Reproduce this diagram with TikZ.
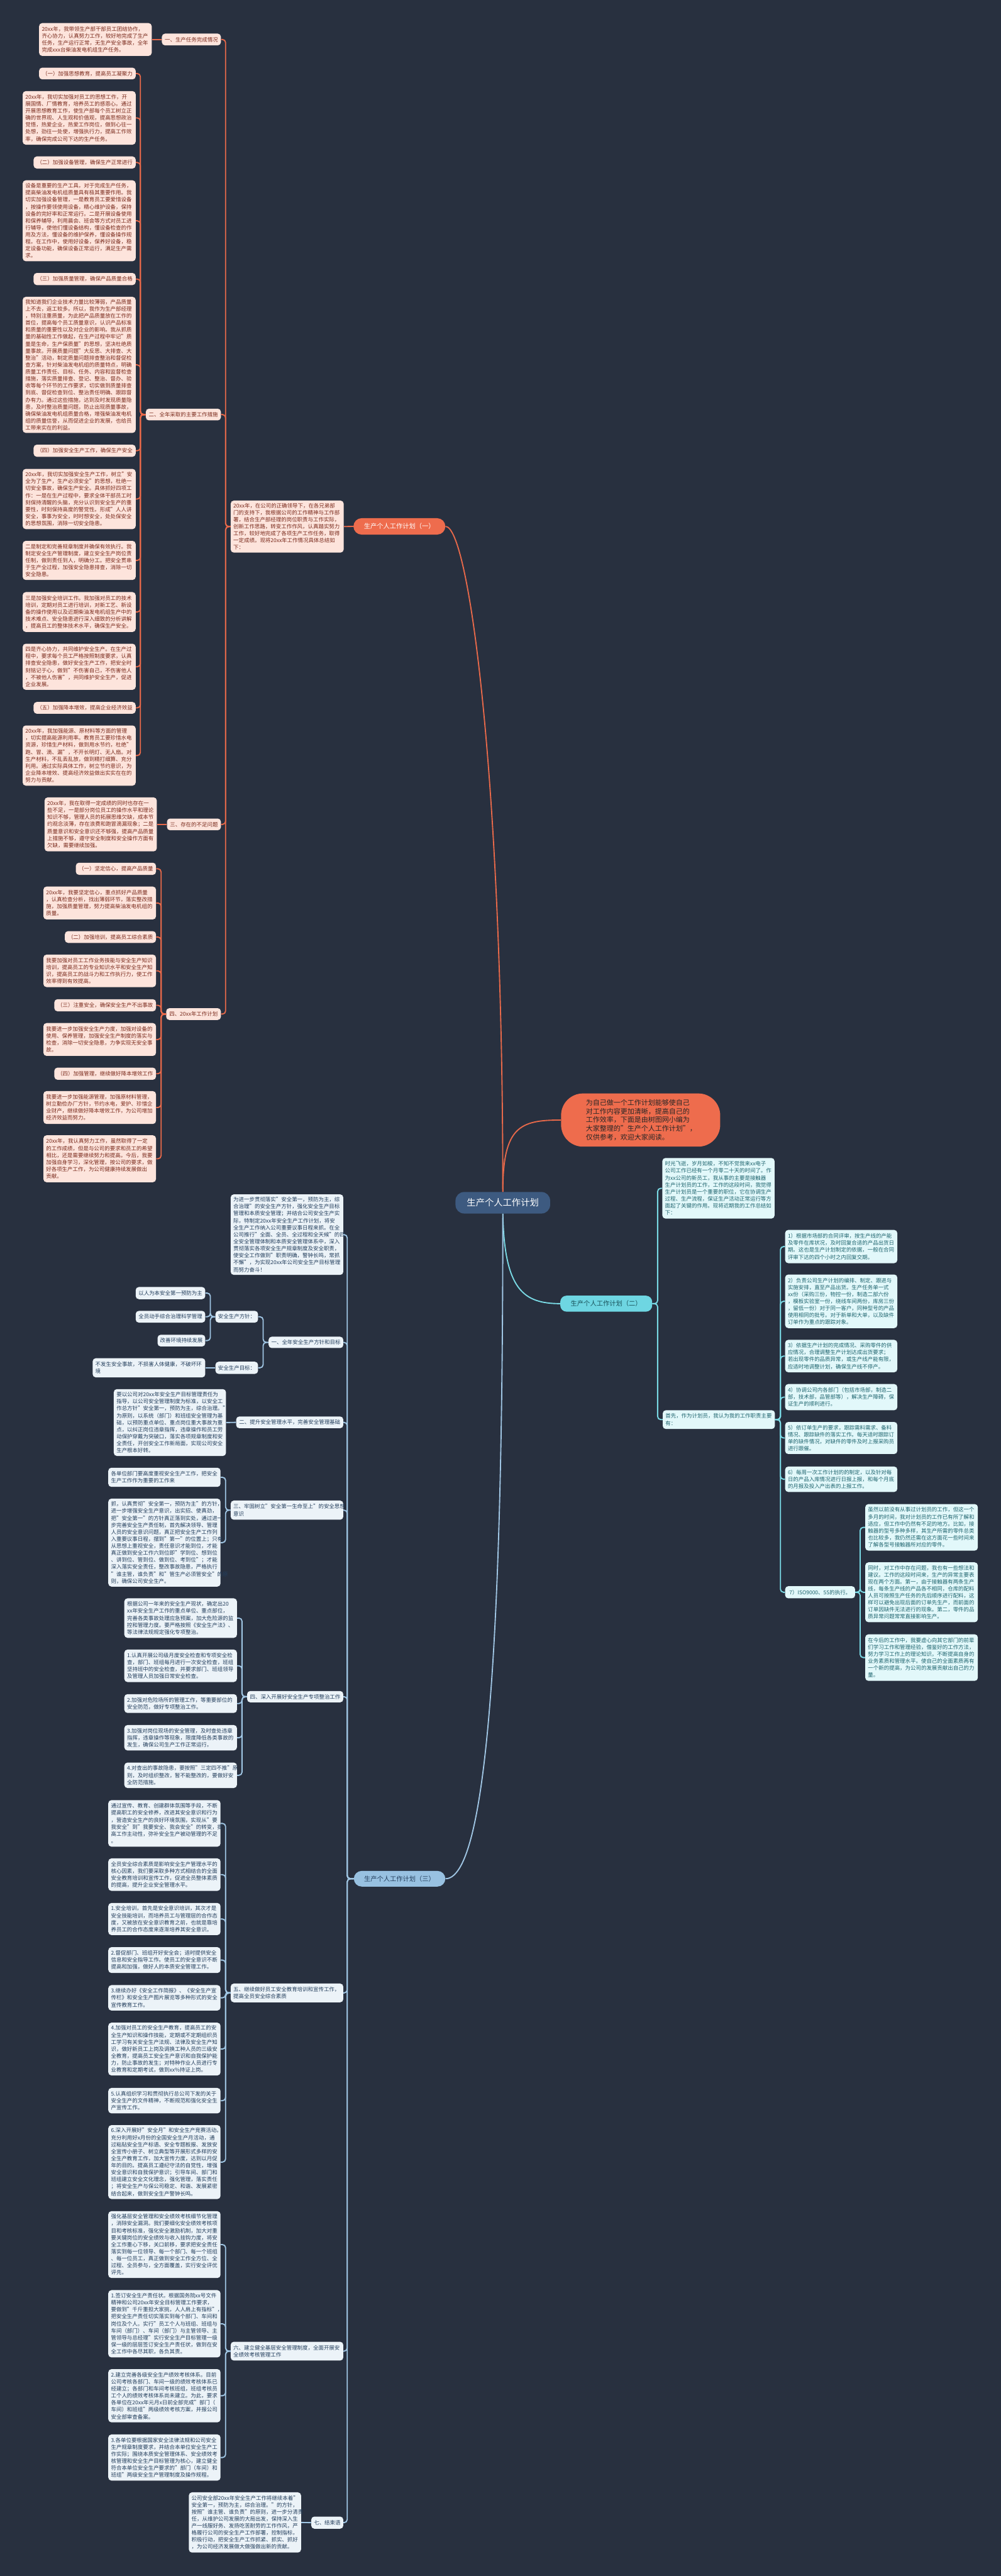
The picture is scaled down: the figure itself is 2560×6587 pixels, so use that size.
\documentclass[tikz,border=0pt]{standalone}
\usepackage{fontspec}
\setmainfont{Noto Sans CJK SC}
\definecolor{bgc}{RGB}{40,48,63}
\definecolor{lineA}{RGB}{232,105,74}
\definecolor{fillA}{RGB}{253,228,220}
\definecolor{textA}{RGB}{122,42,28}
\definecolor{orangeA}{RGB}{238,108,77}
\definecolor{centralc}{RGB}{61,90,128}
\definecolor{lineB}{RGB}{122,219,230}
\definecolor{nodeB}{RGB}{110,214,226}
\definecolor{fillB}{RGB}{226,248,250}
\definecolor{textB}{RGB}{30,100,110}
\definecolor{lineC}{RGB}{160,198,228}
\definecolor{nodeC}{RGB}{152,193,225}
\definecolor{fillC}{RGB}{236,243,248}
\definecolor{textC}{RGB}{35,62,92}
\newcommand\bodyfont{\fontsize{6.8pt}{8.95pt}\selectfont}
\newcommand\bx[7]{%
 \pgfmathsetmacro\mybw{(#4-#2)*0.5}%
 \pgfmathsetmacro\mybh{(#5-#3)*0.5}%
 \pgfmathsetmacro\mytw{(#4-#2)*0.5-7}%
 \node[#6, minimum width=\mybw pt, minimum height=\mybh pt, text width=\mytw pt, align=left, inner xsep=3.5pt, inner ysep=1pt] (#1) at ({(#2+#4)/2},{(#3+#5)/2}) {#7};}
\newcommand\hd[7]{%
 \pgfmathsetmacro\mybw{(#4-#2)*0.5}%
 \pgfmathsetmacro\mybh{(#5-#3)*0.5}%
 \node[#6, minimum width=\mybw pt, minimum height=\mybh pt, inner sep=1pt] (#1) at ({(#2+#4)/2},{(#3+#5)/2}) {#7};}
\newcommand\connL[4]{\draw[#1] (#2.west) -- (#2.west -| #3) |- (#4.east);}
\newcommand\connR[4]{\draw[#1] (#2.east) -- (#2.east -| #3) |- (#4.west);}
\tikzset{
 boxA/.style={fill=fillA, text=textA, rounded corners=4pt, font=\bodyfont},
 boxB/.style={fill=fillB, text=textB, rounded corners=4pt, font=\bodyfont},
 boxC/.style={fill=fillC, text=textC, rounded corners=4pt, font=\bodyfont},
 linkA/.style={draw=lineA, line width=1.5pt, rounded corners=4pt},
 linkB/.style={draw=lineB, line width=1.5pt, rounded corners=4pt},
 linkC/.style={draw=lineC, line width=1.5pt, rounded corners=4pt},
 curveA/.style={draw=lineA, line width=1.5pt},
 curveB/.style={draw=lineB, line width=1.5pt},
 curveC/.style={draw=lineC, line width=1.5pt},
}
\begin{document}
\begin{tikzpicture}[x=0.5pt,y=-0.5pt]
\fill[bgc] (0,0) rectangle (2560,6587);
\useasboundingbox (0,0) rectangle (2560,6587);

% spine coordinates
\coordinate (sA) at (577,0);
\coordinate (sB) at (359,0);
\coordinate (sD) at (412,0);
\coordinate (sE) at (1682,0);
\coordinate (sF) at (1996,0);
\coordinate (sG) at (2200,0);
\coordinate (sH) at (888,0);
\coordinate (sI) at (673,0);
\coordinate (sJ) at (538,0);
\coordinate (sL) at (577,0);
\coordinate (sM) at (619,0);
\coordinate (sN) at (577,0);
\coordinate (sP) at (577,0);

% central and level-1
\hd{c}{1165}{3048}{1407}{3103}{fill=centralc, text=white, rounded corners=11pt, font=\fontsize{11.5pt}{14pt}\selectfont}{生产个人工作计划}
\node[fill=orangeA, text=black!85, rounded corners=28pt, font=\fontsize{8.85pt}{11.2pt}\selectfont, minimum width=203.5pt, minimum height=68pt, text width=140pt, align=left, inner xsep=0pt, inner ysep=1pt] (oi) at (1638.5,2864) {为自己做一个工作计划能够使自己\\对工作内容更加清晰，提高自己的\\工作效率，下面是由树图网小编为\\大家整理的"生产个人工作计划"，\\仅供参考，欢迎大家阅读。};
\hd{b1}{904}{1325}{1139}{1367}{fill=orangeA, text=white, rounded corners=10.5pt, font=\fontsize{8.25pt}{10pt}\selectfont}{生产个人工作计划（一）}
\hd{b2}{1433}{3313}{1668}{3354}{fill=nodeB, text=textB!80!black, rounded corners=8pt, font=\fontsize{8.25pt}{10pt}\selectfont}{生产个人工作计划（二）}
\hd{b3}{905}{4784}{1139}{4824}{fill=nodeC, text=textC, rounded corners=10pt, font=\fontsize{8.25pt}{10pt}\selectfont}{生产个人工作计划（三）}

\draw[curveA] (c.north) .. controls (1286,2000) and (1200,1346) .. (b1.east);
\draw[curveA] (c.north) .. controls (1286,2880) and (1330,2864) .. (oi.west);
\draw[curveB] (c.south) .. controls (1290,3300) and (1340,3333) .. (b2.west);
\draw[curveC] (c.south) .. controls (1286,4000) and (1260,4804) .. (b3.east);

% ================= Branch 1 =================
\bx{ib1}{590}{1280}{879}{1413}{boxA}{20xx年，在公司的正确领导下，在各兄弟部\\门的支持下，我根据公司的工作精神与工作部\\署，结合生产部经理的岗位职责与工作实际，\\创新工作思路，转变工作作风，认真踏实努力\\工作，较好地完成了各项生产工作任务，取得\\一定成绩。现将20xx年工作情况具体总结如\\下：}
\hd{n1}{414}{86}{565}{116}{boxA}{一、生产任务完成情况}
\bx{a0}{100}{59}{388}{143}{boxA}{20xx年，我带领生产部干部员工团结协作，\\齐心协力，认真努力工作，较好地完成了生产\\任务，生产运行正常，无生产安全事故，全年\\完成xxx台柴油发电机组生产任务。}
\hd{n2}{373}{1045}{565}{1075}{boxA}{二、全年采取的主要工作措施}
\hd{h1}{100}{173}{347}{203}{boxA}{（一）加强思想教育，提高员工凝聚力}
\bx{t1}{58}{233}{347}{370}{boxA}{20xx年，我切实加强对员工的思想工作，开\\展国情、厂情教育，培养员工的感恩心。通过\\开展思想教育工作，使生产部每个员工树立正\\确的世界观、人生观和价值观，提高思想政治\\觉悟，热爱企业，热爱工作岗位，做到心往一\\处想，劲往一处使，增强执行力，提高工作效\\率，确保完成公司下达的生产任务。}
\hd{h2}{86}{400}{347}{431}{boxA}{（二）加强设备管理，确保生产正常进行}
\bx{t2}{58}{461}{347}{668}{boxA}{设备是重要的生产工具，对于完成生产任务，\\提高柴油发电机组质量具有极其重要作用。我\\切实加强设备管理，一是教育员工要爱惜设备\\，按操作要领使用设备，精心维护设备，保持\\设备的完好率和正常运行。二是开展设备使用\\和保养辅导，利用晨会、班会等方式对员工进\\行辅导，使他们懂设备结构，懂设备检查的作\\用及方法，懂设备的维护保养，懂设备操作规\\程。在工作中，使用好设备，保养好设备，稳\\定设备功能，确保设备正常运行，满足生产需\\求。}
\hd{h3}{86}{698}{347}{729}{boxA}{（三）加强质量管理，确保产品质量合格}
\bx{t3}{58}{759}{347}{1107}{boxA}{我知道我们企业技术力量比较薄弱，产品质量\\上不去，返工较多。所以，我作为生产部经理\\，特别注重质量，为此把产品质量放在工作的\\首位，提高每个员工质量意识，认识产品标准\\和质量的重要性以及对企业的影响。我从抓质\\量的基础性工作做起，在生产过程中牢记"质\\量是生命，生产保质量"的思想，坚决杜绝质\\量事故。开展质量问题"大反思、大排查、大\\整治"活动，制定质量问题排查整治和督促检\\查方案，针对柴油发电机组的质量特点，明确\\质量工作责任、目标、任务、内容和监督检查\\措施，落实质量排查、登记、整治、督办、验\\收等每个环节的工作要求，切实做到质量排查\\到底、督促检查到位、整治责任明确、跟踪督\\办有力。通过这些措施，达到及时发现质量隐\\患，及时整治质量问题，防止出现质量事故，\\确保柴油发电机组质量合格，增强柴油发电机\\组的质量信誉，从而促进企业的发展，也给员\\工带来实在的利益。}
\hd{h4}{86}{1137}{347}{1168}{boxA}{（四）加强安全生产工作，确保生产安全}
\bx{t4}{58}{1199}{347}{1353}{boxA}{20xx年，我切实加强安全生产工作，树立"安\\全为了生产，生产必须安全"的思想，杜绝一\\切安全事故，确保生产安全。具体抓好四项工\\作：一是在生产过程中，要求全体干部员工时\\刻保持清醒的头脑，充分认识到安全生产的重\\要性，时刻保持高度的警觉性。形成"人人讲\\安全，事事为安全，时时想安全，处处保安全\\的思想氛围，消除一切安全隐患。}
\bx{t5}{58}{1383}{347}{1483}{boxA}{二是制定和完善规章制度并确保有效执行。我\\制定安全生产管理制度，建立安全生产岗位责\\任制，做到责任到人，明确分工。把安全贯串\\于生产全过程，加强安全隐患排查，消除一切\\安全隐患。}
\bx{t6}{58}{1514}{347}{1616}{boxA}{三是加强安全培训工作。我加强对员工的技术\\培训，定期对员工进行培训，对新工艺、新设\\备的操作使用以及近期柴油发电机组生产中的\\技术难点、安全隐患进行深入细致的分析讲解\\，提高员工的整体技术水平，确保生产安全。}
\bx{t7}{58}{1646}{347}{1764}{boxA}{四是齐心协力，共同维护安全生产。在生产过\\程中，要求每个员工严格按照制度要求，认真\\排查安全隐患，做好安全生产工作，把安全时\\刻铭记于心，做到"不伤害自己，不伤害他人\\，不被他人伤害"，共同维护安全生产，促进\\企业发展。}
\hd{h5}{86}{1795}{347}{1825}{boxA}{（五）加强降本增效，提高企业经济效益}
\bx{t8}{58}{1855}{347}{2009}{boxA}{20xx年，我加强能源、原材料等方面的管理\\，切实提高能源利用率。教育员工要珍惜水电\\资源，珍惜生产材料，做到用水节约，杜绝"\\跑、冒、滴、漏"，不开长明灯、无人扇。对\\生产材料，不乱丢乱放，做到精打细算、充分\\利用。通过实际具体工作，树立节约意识，为\\企业降本增效、提高经济效益做出实实在在的\\努力与贡献。}
\hd{n3}{427}{2093}{565}{2123}{boxA}{三、存在的不足问题}
\bx{c1}{114}{2039}{401}{2177}{boxA}{20xx年，我在取得一定成绩的同时也存在一\\些不足，一是部分岗位员工的操作水平和理论\\知识不够，管理人员的拓展思维欠缺，成本节\\约观念淡薄，存在浪费和跑冒滴漏现象；二是\\质量意识和安全意识还不够强，提高产品质量\\上措施不够，遵守安全制度和安全操作方面有\\欠缺，需要继续加强。}
\hd{n4}{425}{2578}{565}{2608}{boxA}{四、20xx年工作计划}
\hd{d1}{194}{2206}{399}{2237}{boxA}{（一）坚定信心，提高产品质量}
\bx{d2}{111}{2267}{399}{2351}{boxA}{20xx年，我要坚定信心，重点抓好产品质量\\，认真检查分析，找出薄弱环节，落实整改措\\施，加强质量管理，努力提高柴油发电机组的\\质量。}
\hd{d3}{166}{2381}{399}{2411}{boxA}{（二）加强培训，提高员工综合素质}
\bx{d4}{111}{2441}{399}{2524}{boxA}{我要加强对员工工作业务技能与安全生产知识\\培训，提高员工的专业知识水平和安全生产知\\识，提高员工的战斗力和工作执行力，使工作\\效率得到有效提高。}
\hd{d5}{139}{2555}{399}{2586}{boxA}{（三）注重安全，确保安全生产不出事故}
\bx{d6}{111}{2616}{399}{2700}{boxA}{我要进一步加强安全生产力度，加强对设备的\\使用、保养管理，加强安全生产制度的落实与\\检查，消除一切安全隐患，力争实现无安全事\\故。}
\hd{d7}{139}{2730}{399}{2761}{boxA}{（四）加强管理，继续做好降本增效工作}
\bx{d8}{111}{2790}{399}{2874}{boxA}{我要进一步加强能源管理，加强原材料管理，\\树立勤俭办厂方针，节约水电，爱护、珍惜企\\业财产，继续做好降本增效工作，为公司增加\\经济效益而努力。}
\bx{d9}{111}{2903}{399}{3023}{boxA}{20xx年，我认真努力工作，虽然取得了一定\\的工作成绩，但是与公司的要求和员工的希望\\相比，还是需要继续努力和提高。今后，我要\\加强自身学习，深化管理，按公司的要求，做\\好各项生产工作，为公司健康持续发展做出\\贡献。}

\draw[linkA] (b1.west) -- (ib1.east);
\foreach \k in {n1,n2,n3,n4} {\connL{linkA}{ib1}{sA}{\k}}
\draw[linkA] (n1.west) -- (a0.east);
\foreach \k in {h1,t1,h2,t2,h3,t3,h4,t4,t5,t6,t7,h5,t8} {\connL{linkA}{n2}{sB}{\k}}
\draw[linkA] (n3.west) -- (c1.east);
\foreach \k in {d1,d2,d3,d4,d5,d6,d7,d8,d9} {\connL{linkA}{n4}{sD}{\k}}

% ================= Branch 2 =================
\bx{e0}{1694}{2961}{1981}{3116}{boxB}{时光飞逝，岁月如梭，不知不觉我来xx电子\\公司工作已经有一个月零二十天的时间了。作\\为xx公司的新员工，我从事的主要是接触器\\生产计划员的工作，工作的这段时间，我觉得\\生产计划员是一个重要的职位，它在协调生产\\过程、生产流程，保证生产活动正常运行等方\\面起了关键的作用。现将近期我的工作总结如\\下：}
\bx{e1}{1695}{3606}{1982}{3654}{boxB}{首先，作为计划员，我认为我的工作职责主要\\有：}
\bx{f1}{2008}{3145}{2295}{3230}{boxB}{1）根据市场部的合同评审，按生产线的产能\\及零件在库状况，及时回复合适的产品出货日\\期。这也是生产计划制定的依据，一般在合同\\评审下达的四个小时之内回复交期。}
\bx{f2}{2008}{3259}{2295}{3396}{boxB}{2）负责公司生产计划的编排、制定、跟进与\\实施安排，直至产品出货。生产任务单一式\\xx份（采购三份，物控一份，制造二部六份\\，模板实验室一份，绕线车间两份，库房三份\\，留低一份）对于同一客户，同种型号的产品\\使用相同的批号。对于新单和大单，以及缺件\\订单作为重点的跟踪对象。}
\bx{f3}{2008}{3426}{2295}{3509}{boxB}{3）依据生产计划的完成情况、采购零件的供\\应情况，合理调整生产计划达成出货要求；\\若出现零件的品质异常，或生产线产能有限，\\应适时地调整计划，确保生产线不停产。}
\bx{f4}{2008}{3539}{2295}{3606}{boxB}{4）协调公司内各部门（包括市场部，制造二\\部，技术部，品管部等），解决生产障碍，保\\证生产的顺利进行。}
\bx{f5}{2008}{3636}{2295}{3718}{boxB}{5）依订单生产的要求，跟踪需料需求、备料\\情况、跟踪缺件的落实工作。每天适时跟踪订\\单的缺件情况，对缺件的零件及时上报采购员\\进行跟催。}
\bx{f6}{2008}{3750}{2295}{3815}{boxB}{6）每周一次工作计划的的制定，以及针对每\\日的产品入库情况进行日报上报，和每个月底\\的月报及投入产出表的上报工作。}
\hd{f7}{2008}{4056}{2187}{4087}{boxB}{7）ISO9000、5S的执行。}
\bx{g1}{2213}{3846}{2501}{3965}{boxB}{虽然以前没有从事过计划员的工作，但这一个\\多月的时间，我对计划员的工作已有所了解和\\适应，但工作中仍然有不足的地方。比如，接\\触器的型号多种多样，其生产所需的零件总类\\也比较多，我仍然还需在这方面花一些时间来\\了解各型号接触器所对应的零件。}
\bx{g2}{2213}{3995}{2501}{4148}{boxB}{同时，对工作中存在问题，我也有一些想法和\\建议。工作的这段时间来，生产的异常主要表\\现在两个方面。第一，由于接触器有两条生产\\线，每条生产线的产品各不相同，仓库的配料\\人员可按照生产任务的先后顺序进行配料，这\\样可以避免出现后面的订单先生产，而前面的\\订单因缺件无法进行的现象。第二，零件的品\\质异常问题常常直接影响生产。}
\bx{g3}{2213}{4179}{2501}{4298}{boxB}{在今后的工作中，我要虚心向其它部门的前辈\\们学习工作和管理经验，借鉴好的工作方法，\\努力学习工作上的理论知识，不断提高自身的\\业务素质和管理水平。使自己的全面素质再有\\一个新的提高，为公司的发展贡献出自己的力\\量。}

\foreach \k in {e0,e1} {\connR{linkB}{b2}{sE}{\k}}
\foreach \k in {f1,f2,f3,f4,f5,f6,f7} {\connR{linkB}{e1}{sF}{\k}}
\foreach \k in {g1,g2,g3} {\connR{linkB}{f7}{sG}{\k}}

% ================= Branch 3 =================
\bx{h0}{590}{3054}{878}{3260}{boxC}{为进一步贯彻落实"安全第一，预防为主，综\\合治理"的安全生产方针，强化安全生产目标\\管理和本质安全管理；并结合公司安全生产实\\际，特制定20xx年安全生产工作计划，将安\\全生产工作纳入公司重要议事日程来抓。在全\\公司推行"全面、全员、全过程和全天候"的四\\全安全管理体制和本质安全管理体系中，深入\\贯彻落实各项安全生产规章制度及安全职责，\\使安全工作做到"职责明确，警钟长鸣，常抓\\不懈"，为实现20xx年公司安全生产目标管理\\而努力奋斗！}
\hd{hh1}{687}{3418}{878}{3447}{boxC}{一、全年安全生产方针和目标}
\hd{i1}{551}{3352}{660}{3382}{boxC}{安全生产方针：}
\hd{i2}{551}{3482}{660}{3513}{boxC}{安全生产目标：}
\hd{j1}{347}{3291}{525}{3322}{boxC}{以人为本安全第一预防为主}
\hd{j2}{347}{3352}{525}{3382}{boxC}{全员动手综合治理科学管理}
\hd{j3}{403}{3413}{525}{3443}{boxC}{改善环境持续发展}
\bx{j4}{237}{3473}{525}{3522}{boxC}{不发生安全事故，不损害人体健康，不破坏环\\境}
\hd{hh2}{604}{3622}{878}{3652}{boxC}{二、提升安全管理水平，完善安全管理基础}
\bx{k1}{291}{3552}{578}{3723}{boxC}{要以公司对20xx年安全生产目标管理责任为\\指导，以公司安全管理制度为标准，以安全工\\作总方针"安全第一，预防为主，综合治理。"\\为原则，以系统（部门）和班组安全管理为基\\础，以预防重点单位、重点岗位重大事故为重\\点，以纠正岗位违章指挥，违章操作和员工劳\\动保护穿戴为突破口，落实各项规章制度和安\\全责任，开创安全工作新局面，实现公司安全\\生产根本好转。}
\bx{hh3}{590}{3837}{878}{3886}{boxC}{三、牢固树立"安全第一生命至上"的安全思想\\意识}
\bx{l1}{277}{3753}{564}{3802}{boxC}{各单位部门要高度重视安全生产工作，把安全\\生产工作作为重要的工作来}
\bx{l2}{277}{3832}{564}{4057}{boxC}{抓，认真贯彻"安全第一，预防为主"的方针，\\进一步增强安全生产意识，出实招、使真劲，\\把"安全第一"的方针真正落到实处，通过进一\\步完善安全生产责任制，首先解决领导、管理\\人员的安全意识问题，真正把安全生产工作列\\入重要议事日程，摆到"第一"的位置上；只有\\从思想上重视安全，责任意识才能到位，才能\\真正做到安全工作六到位即"学到位、想到位\\、讲到位、管到位、做到位、考到位"；才能\\深入落实安全责任，整改事故隐患，严格执行\\"谁主管，谁负责"和"管生产必须管安全"的原\\则，确保公司安全生产。}
\hd{hh4}{632}{4324}{878}{4353}{boxC}{四、深入开展好安全生产专项整治工作}
\bx{m1}{318}{4087}{606}{4188}{boxC}{根据公司一年来的安全生产现状，确定出20\\xx年安全生产工作的重点单位、重点部位，\\完善各类事故处理应急预案，加大危险源的监\\控和管理力度。要严格按照《安全生产法》、\\等法律法规规定强化专项整治。}
\bx{m2}{318}{4218}{606}{4301}{boxC}{1.认真开展公司级月度安全检查和专项安全检\\查，部门、班组每月进行一次安全检查，班组\\坚持班中的安全检查，并要求部门、班组领导\\及管理人员加强日常安全检查。}
\bx{m3}{318}{4332}{606}{4380}{boxC}{2.加强对危险场所的管理工作，等重要部位的\\安全防范，做好专项整治工作。}
\bx{m4}{318}{4411}{606}{4476}{boxC}{3.加强对岗位现场的安全管理，及时查处违章\\指挥，违章操作等现象，限度降低各类事故的\\发生，确保公司生产工作正常运行。}
\bx{m5}{318}{4507}{606}{4572}{boxC}{4.对查出的事故隐患，要按照"三定四不推"原\\则，及时组织整改，暂不能整改的，要做好安\\全防范措施。}
\bx{hh5}{590}{5072}{878}{5120}{boxC}{五、继续做好员工安全教育培训和宣传工作，\\提高全员安全综合素质}
\bx{nn0}{277}{4603}{564}{4722}{boxC}{通过宣传、教育、创建群体氛围等手段，不断\\提高职工的安全修养，改进其安全意识和行为\\，营造安全生产的良好环境氛围，实现从"要\\我安全"到"我要安全、我会安全"的转变，提\\高工作主动性，弥补安全生产被动管理的不足\\。}
\bx{nn1}{277}{4752}{564}{4835}{boxC}{全员安全综合素质是影响安全生产管理水平的\\核心因素，我们要采取多种方式相结合的全面\\安全教育培训和宣传工作，促进全员整体素质\\的提高，提升企业安全管理水平。}
\bx{nn2}{277}{4866}{564}{4948}{boxC}{1.安全培训，首先是安全意识培训，其次才是\\安全技能培训，而培养员工与管理层的合作态\\度，又被放在安全意识教育之前，也就是靠培\\养员工的合作态度来逐渐培养其安全意识。}
\bx{nn3}{277}{4979}{564}{5045}{boxC}{2.督促部门、班组开好安全会；适时提供安全\\信息和安全指导工作。使员工的安全意识不断\\提高和加强，做好人的本质安全管理工作。}
\bx{nn4}{277}{5076}{564}{5141}{boxC}{3.继续办好《安全工作简报》、《安全生产宣\\传栏》和安全生产图片展览等多种形式的安全\\宣传教育工作。}
\bx{nn5}{277}{5172}{564}{5307}{boxC}{4.加强对员工的安全生产教育，提高员工的安\\全生产知识和操作技能，定期或不定期组织员\\工学习有关安全生产法规、法律及安全生产知\\识，做好新员工上岗及调换工种人员的三级安\\全教育，提高员工安全生产意识和自我保护能\\力，防止事故的发生；对特种作业人员进行专\\业教育和定期考试，做到xx\%持证上岗。}
\bx{nn6}{277}{5339}{564}{5404}{boxC}{5.认真组织学习和贯彻执行总公司下发的关于\\安全生产的文件精神，不断规范和强化安全生\\产宣传工作。}
\bx{nn7}{277}{5434}{564}{5623}{boxC}{6.深入开展好"安全月"和安全生产竞赛活动。\\充分利用好x月份的全国安全生产月活动，通\\过粘贴安全生产标语、安全专题板报、发放安\\全宣传小册子、树立典型等开展形式多样的安\\全生产教育工作，加大宣传力度，达到以月促\\年的目的。提高员工遵纪守法的自觉性，增强\\安全意识和自我保护意识；引导车间、部门和\\班组建立安全文化理念，强化管理，落实责任\\；将安全生产与保公司稳定、和谐、发展紧密\\结合起来，做到安全生产警钟长鸣。}
\bx{hh6}{590}{5988}{878}{6036}{boxC}{六、建立健全基层安全管理制度，全面开展安\\全绩效考核管理工作}
\bx{p0}{277}{5654}{564}{5825}{boxC}{强化基层安全管理和安全绩效考核细节化管理\\，消除安全漏洞。我们要细化安全绩效考核项\\目和考核标准，强化安全激励机制，加大对重\\要关键岗位的安全绩效与收入挂钩力度，将安\\全工作重心下移，关口前移，要求把安全责任\\落实到每一位领导、每一个部门、每一个班组\\、每一位员工，真正做到安全工作全方位、全\\过程、全员参与，全方面覆盖，实行安全评优\\评先。}
\bx{p1}{277}{5856}{564}{6028}{boxC}{1.签订安全生产责任状。根据国务院xx号文件\\精神和公司20xx年安全目标管理工作要求，\\要做到"千斤重担大家挑，人人肩上有指标"，\\把安全生产责任切实落实到每个部门、车间和\\岗位及个人。实行"员工个人与班组、班组与\\车间（部门）、车间（部门）与主管领导、主\\管领导与总经理"实行安全生产目标管理一级\\保一级的层层签订安全生产责任状，做到在安\\全工作中各尽其职，各负其责。}
\bx{p2}{277}{6058}{564}{6194}{boxC}{2.建立完善各级安全生产绩效考核体系。目前\\公司考核各部门、车间一级的绩效考核体系已\\经建立；各部门和车间考核班组，班组考核员\\工个人的绩效考核体系尚未建立。为此，要求\\各单位在20xx年元月x日前全部完成"部门（\\车间）和班组"两级绩效考核方案，并报公司\\安全部审查备案。}
\bx{p3}{277}{6225}{564}{6343}{boxC}{3.各单位要根据国家安全法律法规和公司安全\\生产规章制度要求，并结合本单位安全生产工\\作实际；围绕本质安全管理体系、安全绩效考\\核管理和安全生产目标管理为核心，建立健全\\符合本单位安全生产要求的"部门（车间）和\\班组"两级安全生产管理制度及操作规程。}
\hd{hh7}{796}{6435}{878}{6466}{boxC}{七、结束语}
\bx{q1}{483}{6373}{770}{6527}{boxC}{公司安全部20xx年安全生产工作将继续本着"\\安全第一，预防为主，综合治理。"的方针，\\按照"谁主管、谁负责"的原则，进一步分清责\\任，从维护公司发展的大局出发，保持深入生\\产一线服好务、发扬吃苦耐劳的工作作风，严\\格履行公司的安全生产工作部署，控制指标，\\积极行动，把安全生产工作抓紧、抓实、抓好\\，为公司经济发展做大做强做出新的贡献。}

\foreach \k in {h0,hh1,hh2,hh3,hh4,hh5,hh6,hh7} {\connL{linkC}{b3}{sH}{\k}}
\foreach \k in {i1,i2} {\connL{linkC}{hh1}{sI}{\k}}
\foreach \k in {j1,j2,j3} {\connL{linkC}{i1}{sJ}{\k}}
\draw[linkC] (i2.west) -- (j4.east);
\draw[linkC] (hh2.west) -- (k1.east);
\foreach \k in {l1,l2} {\connL{linkC}{hh3}{sL}{\k}}
\foreach \k in {m1,m2,m3,m4,m5} {\connL{linkC}{hh4}{sM}{\k}}
\foreach \k in {nn0,nn1,nn2,nn3,nn4,nn5,nn6,nn7} {\connL{linkC}{hh5}{sN}{\k}}
\foreach \k in {p0,p1,p2,p3} {\connL{linkC}{hh6}{sP}{\k}}
\draw[linkC] (hh7.west) -- (q1.east);
\end{tikzpicture}
\end{document}
